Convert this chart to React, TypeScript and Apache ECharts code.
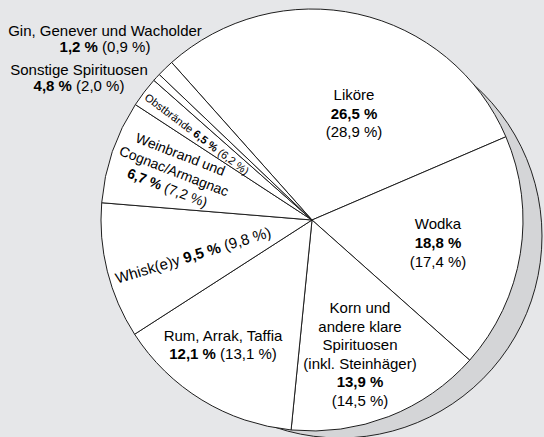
import React, { useEffect, useRef } from "react";
import * as echarts from "echarts";

// Categories in clockwise order starting at the Liköre slice
const categories = [
  "Liköre",
  "Wodka",
  "Korn und andere klare Spirituosen (inkl. Steinhäger)",
  "Rum, Arrak, Taffia",
  "Whisk(e)y",
  "Weinbrand und Cognac/Armagnac",
  "Obstbrände",
  "Sonstige Spirituosen",
  "Gin, Genever und Wacholder",
];
// Printed shares (current year) and previous-year shares in brackets
const shareCurrent = [26.5, 18.8, 13.9, 12.1, 9.5, 6.7, 6.5, 4.8, 1.2];
const sharePrevious = [28.9, 17.4, 14.5, 13.1, 9.8, 7.2, 6.2, 2.0, 0.9];
// Slice sizes as drawn in the picture
const drawnShare = [30.1, 18.0, 15.0, 14.3, 10.4, 7.9, 2.3, 0.6, 1.3];

const fmt = (v: number) => v.toFixed(1).replace(".", ",") + " %";

const FONT = "'Liberation Sans', Arial, Helvetica, sans-serif";

export default function App() {
  const ref = useRef<HTMLDivElement>(null);
  useEffect(() => {
    if (!ref.current) return;
    const chart = echarts.init(ref.current, undefined, { renderer: "svg" });

    const rich = (size: number, lh: number) => ({
      n: { fontSize: size, color: "#404040", fontFamily: FONT, lineHeight: lh },
      b: { fontSize: size, color: "#1c1c1c", fontFamily: FONT, fontWeight: "bold", lineHeight: lh },
      p: { fontSize: size, color: "#505050", fontFamily: FONT, lineHeight: lh },
    });
    const b = (i: number) => `{b|${fmt(shareCurrent[i])}}`;
    const p = (i: number) => `{p|(${fmt(sharePrevious[i])})}`;

    const labels: { text: string; x: number; y: number; rot?: number; size?: number; lh?: number }[] = [
      { text: `{n|Liköre}\n${b(0)}\n${p(0)}`, x: 354, y: 113, lh: 18.5 },
      { text: `{n|Wodka}\n${b(1)}\n${p(1)}`, x: 438, y: 242, lh: 19 },
      {
        text: `{n|Korn und}\n{n|andere klare}\n{n|Spirituosen}\n{n|(inkl. Steinhäger)}\n${b(2)}\n${p(2)}`,
        x: 360, y: 354, lh: 18.6,
      },
      { text: `{n|Rum, Arrak, Taffia}\n${b(3)}{p| }${p(3)}`, x: 223, y: 344, lh: 18 },
      { text: `{n|Whisk(e)y }${b(4)}{p| }${p(4)}`, x: 193, y: 255, rot: 0.295, lh: 18 },
      {
        text: `{n|Weinbrand und}\n{n|Cognac/Armagnac}\n${b(5)}{p| }${p(5)}`,
        x: 174, y: 171, rot: -0.37, size: 14, lh: 18,
      },
      { text: `{n|Obstbrände }${b(6)}{p| }${p(6)}`, x: 197, y: 134, rot: -0.646, size: 11, lh: 13 },
      { text: `{n|Sonstige Spirituosen}\n${b(7)}{p| }${p(7)}`, x: 79, y: 77, lh: 16 },
      { text: `{n|Gin, Genever und Wacholder}\n${b(8)}{p| }${p(8)}`, x: 105, y: 38, lh: 16 },
    ];

    chart.setOption({
      animation: false,
      backgroundColor: "#e6e7e9",
      series: [
        {
          type: "pie",
          z: 1,
          silent: true,
          center: [340, 236],
          radius: [0, 202],
          label: { show: false },
          labelLine: { show: false },
          emphasis: { disabled: true },
          itemStyle: { color: "#d4d5d7", borderColor: "#222", borderWidth: 1 },
          data: [{ value: 1, name: "shadow" }],
        },
        {
          type: "pie",
          z: 3,
          silent: true,
          center: [312, 220],
          radius: [0, 211],
          startAngle: 131.7,
          clockwise: true,
          label: { show: false },
          labelLine: { show: false },
          emphasis: { disabled: true },
          itemStyle: { color: "#ffffff", borderColor: "#1e1e1e", borderWidth: 1 },
          data: categories.map((c, i) => ({ name: c, value: drawnShare[i] })),
        },
      ],
      graphic: labels.map((l) => ({
        type: "text",
        x: l.x,
        y: l.y,
        rotation: l.rot || 0,
        z: 100,
        silent: true,
        style: {
          text: l.text,
          rich: rich(l.size || 15, l.lh || 18),
          font: `${l.size || 15}px ${FONT}`,
          align: "center",
          verticalAlign: "middle",
          textAlign: "center",
          textVerticalAlign: "middle",
        },
      })),
    });
    return () => chart.dispose();
  }, []);
  return (
    <div
      ref={ref}
      style={{ position: "fixed", left: 0, top: 0, width: 544, height: 437 }}
    />
  );
}
